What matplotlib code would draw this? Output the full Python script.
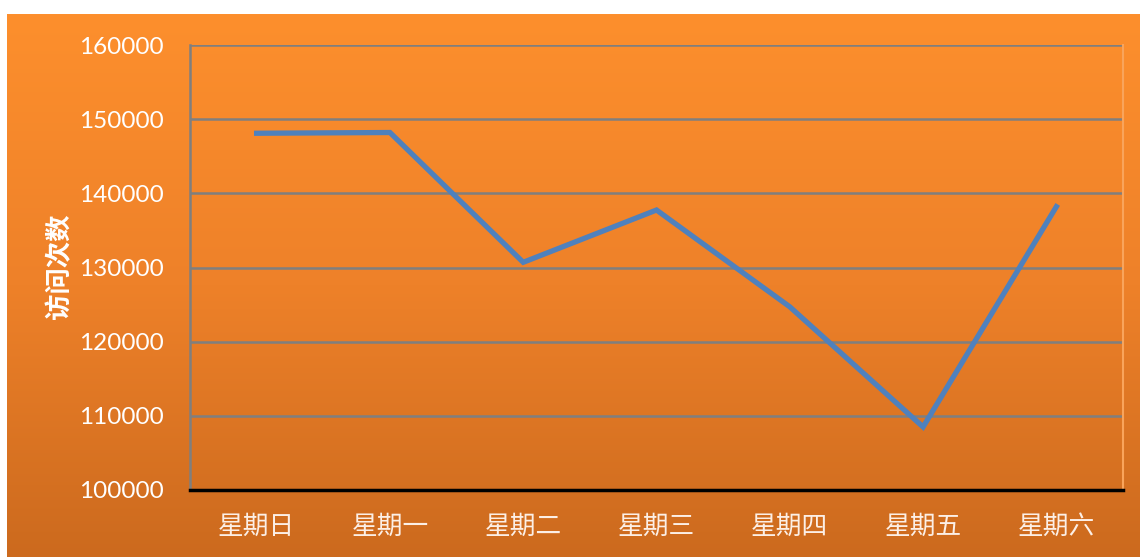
import matplotlib.pyplot as plt
import numpy as np
from matplotlib.colors import LinearSegmentedColormap

days = ["星期日", "星期一", "星期二", "星期三", "星期四", "星期五", "星期六"]
visits = [148100, 148200, 130700, 137750, 124700, 108500, 138200]
y_ticks = [100000, 110000, 120000, 130000, 140000, 150000, 160000]

W, H = 1140, 557
fig = plt.figure(figsize=(W / 100, H / 100), dpi=100, facecolor="white")

# orange gradient panel behind everything
bg = fig.add_axes([7 / W, 0, 1 - 7 / W, 1 - 14 / H], zorder=0)
cmap = LinearSegmentedColormap.from_list("og", ["#FD8F2D", "#EE8129", "#CC6A1E"])
bg.imshow(np.linspace(0, 1, 256).reshape(-1, 1), aspect="auto", cmap=cmap,
          extent=(0, 1, 0, 1))
bg.set_axis_off()

left, right, top, bottom = 190, 1123, 45, 490
ax = fig.add_axes([left / W, 1 - bottom / H, (right - left) / W, (bottom - top) / H],
                  zorder=1)
ax.patch.set_alpha(0)

x = np.arange(len(days))
ax.plot(x, visits, color="#4F81BD", lw=3.8, solid_joinstyle="miter", zorder=3)

ax.set_xlim(-0.5, len(days) - 0.5)
ax.set_ylim(100000, 160000)
ax.set_yticks(y_ticks)
ax.set_yticklabels([str(v) for v in y_ticks], fontfamily="Lato", fontsize=17.5,
                   color="white")
ax.set_xticks(x)
ax.set_xticklabels(days, fontfamily="Noto Sans CJK SC", fontweight="light",
                   fontsize=18.5, color="#FCEFE6")
ax.tick_params(length=0)
ax.tick_params(axis="y", pad=19)
ax.tick_params(axis="x", pad=17)
ax.grid(axis="y", color="#7F7F7F", lw=1.8)
ax.set_axisbelow(True)

ax.spines["top"].set_visible(False)
ax.spines["left"].set_color("#7F7F7F")
ax.spines["left"].set_linewidth(1.8)
ax.spines["right"].set_color("#F9A45B")
ax.spines["right"].set_linewidth(1.5)
ax.spines["bottom"].set_color("black")
ax.spines["bottom"].set_linewidth(2.5)

fig.text(60 / W, 1 - 266 / H, "访问次数", rotation=90, ha="center", va="center",
         fontfamily="Noto Sans CJK SC", fontweight="bold", fontsize=19, color="white")

fig.savefig("out.png", dpi=100, facecolor="white")
